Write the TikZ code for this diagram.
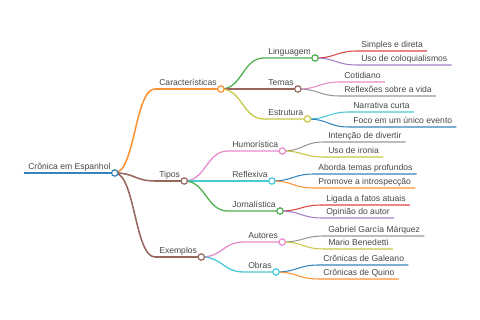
\documentclass[tikz,border=0pt]{standalone}
\usepackage{fontspec}
\setmainfont{Liberation Sans}
\usetikzlibrary{calc}
\definecolor{cblue0}{HTML}{1F77B4}
\definecolor{corange0}{HTML}{FF7F0E}
\definecolor{cgreen0}{HTML}{2CA02C}
\definecolor{cred0}{HTML}{D62728}
\definecolor{cpurple0}{HTML}{9467BD}
\definecolor{cbrown0}{HTML}{8C564B}
\definecolor{cpink0}{HTML}{E377C2}
\definecolor{cgray0}{HTML}{7F7F7F}
\definecolor{colive0}{HTML}{BCBD22}
\definecolor{ccyan0}{HTML}{17BECF}
\colorlet{cblue}{cblue0!90!white}
\colorlet{corange}{corange0!85!white}
\colorlet{cgreen}{cgreen0!85!white}
\colorlet{cred}{cred0!85!white}
\colorlet{cpurple}{cpurple0!85!white}
\colorlet{cbrown}{cbrown0!90!white}
\colorlet{cpink}{cpink0!85!white}
\colorlet{cgray}{cgray0!80!white}
\colorlet{colive}{colive0!85!white}
\colorlet{ccyan}{ccyan0!80!white}
\newcommand\mmnode[4]{%
  \node[lbl] (#1) at (#2,#3-3) {#4};
  \coordinate (#1S) at ([yshift=-2.25pt]#1.base west);
  \coordinate (#1E) at ([yshift=-2.25pt]#1.base east);}
\begin{document}
\begin{tikzpicture}[x=0.75pt,y=-0.75pt,
  lbl/.style={anchor=base west,inner xsep=3pt,inner ysep=0pt,text=black!72,
    font=\fontsize{6.45}{7.5}\selectfont},
  dot/.style={circle,draw=#1,fill=white,line width=0.9pt,minimum size=4.8pt,inner sep=0pt},
  mlink/.style={to path={let \p1=(\tikztostart),\p2=(\tikztotarget) in
    .. controls ({0.5*\x1+0.5*\x2},\y1) and ({0.5*\x1+0.5*\x2},\y2) .. (\tikztotarget)}},
  l0/.style={line width=1.5pt},
  l1/.style={line width=1.15pt},
  l2/.style={line width=0.95pt},
  l3/.style={line width=0.8pt}]
\useasboundingbox (0,0) rectangle (480,320);
% nodes
\mmnode{root}{24}{173}{Crônica em Espanhol}
\mmnode{car}{155}{89}{Características}
\mmnode{tip}{155}{181}{Tipos}
\mmnode{exe}{155}{257}{Exemplos}
\mmnode{lin}{264}{58}{Linguagem}
\mmnode{tem}{264}{89}{Temas}
\mmnode{est}{264}{119}{Estrutura}
\mmnode{hum}{228}{151}{Humorística}
\mmnode{ref}{228}{181}{Reflexiva}
\mmnode{jor}{228}{211}{Jornalística}
\mmnode{aut}{244}{242}{Autores}
\mmnode{obr}{244}{272}{Obras}
\mmnode{sim}{357}{51}{Simples e direta}
\mmnode{col}{357}{65}{Uso de coloquialismos}
\mmnode{cot}{340}{82}{Cotidiano}
\mmnode{rfx}{340}{96}{Reflexões sobre a vida}
\mmnode{nar}{349}{112}{Narrativa curta}
\mmnode{foc}{349}{127}{Foco em um único evento}
\mmnode{itd}{324}{142}{Intenção de divertir}
\mmnode{iro}{324}{157}{Uso de ironia}
\mmnode{abo}{314}{174}{Aborda temas profundos}
\mmnode{pro}{314}{188}{Promove a introspecção}
\mmnode{lig}{322}{205}{Ligada a fatos atuais}
\mmnode{opi}{322}{218}{Opinião do autor}
\mmnode{gab}{324}{236}{Gabriel García Márquez}
\mmnode{mar}{324}{249}{Mario Benedetti}
\mmnode{gal}{319}{265}{Crônicas de Galeano}
\mmnode{qui}{319}{279}{Crônicas de Quino}
% root
\draw[l0,cblue] (rootS) -- (rootE);
% level 1
\foreach \bb/\cl in {car/corange,tip/cbrown,exe/cbrown}{
  \draw[l1,\cl] (rootE) to[mlink] (\bb S) -- (\bb E);}
% level 2
\foreach \aa/\bb/\cl in {car/lin/cgreen,car/tem/cbrown,car/est/colive,
    tip/hum/cpink,tip/ref/ccyan,tip/jor/cgreen,exe/aut/cpink,exe/obr/ccyan}{
  \draw[l2,\cl] (\aa E) to[mlink] (\bb S) -- (\bb E);}
% level 3
\foreach \aa/\bb/\cl in {lin/sim/cred,lin/col/cpurple,tem/cot/cpink,tem/rfx/cgray,
    est/nar/ccyan,est/foc/cblue,hum/itd/cgray,hum/iro/colive,ref/abo/cblue,
    ref/pro/corange,jor/lig/cred,jor/opi/cpurple,aut/gab/cgray,aut/mar/colive,
    obr/gal/cblue,obr/qui/corange}{
  \draw[l3,\cl] (\aa E) to[mlink] (\bb S) -- (\bb E);}
% circles
\foreach \bb/\cl in {root/cblue,car/corange,tip/cbrown,exe/cbrown,lin/cgreen,
    tem/cbrown,est/colive,hum/cpink,ref/ccyan,jor/cgreen,aut/cpink,obr/ccyan}{
  \node[dot=\cl] (\bb C) at (\bb E) {};}
\end{tikzpicture}
\end{document}
